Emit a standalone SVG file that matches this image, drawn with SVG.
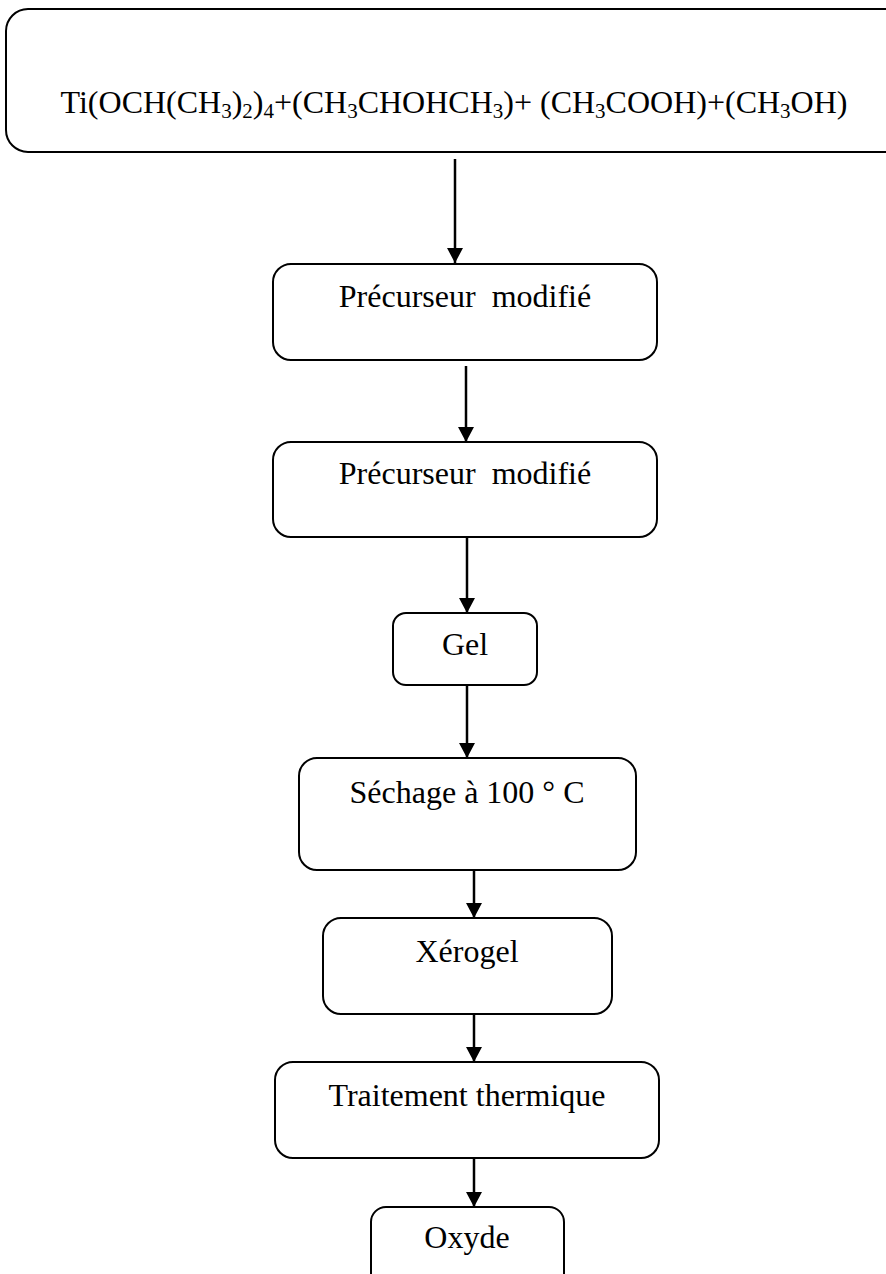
<svg xmlns="http://www.w3.org/2000/svg" width="886" height="1274" viewBox="0 0 886 1274">
<style>
.box{fill:#fff;stroke:#000;stroke-width:2}
.lbl{font-family:"Liberation Serif","Times New Roman",serif;font-size:32px;fill:#000;text-anchor:middle}
.sub{font-size:21px}
.conn{stroke:#000;stroke-width:2.5;fill:none}
</style>
<defs>
<marker id="ah" markerUnits="userSpaceOnUse" markerWidth="18" markerHeight="16" refX="15" refY="8" orient="auto">
<path d="M0,0 L15,8 L0,16 Z" fill="#000"/>
</marker>
</defs>
<rect width="886" height="1274" fill="#fff"/>
<g id="connectors">
<line class="conn" x1="455" y1="159" x2="455" y2="263" marker-end="url(#ah)"/>
<line class="conn" x1="466" y1="366" x2="466" y2="442" marker-end="url(#ah)"/>
<line class="conn" x1="467" y1="537" x2="467" y2="613" marker-end="url(#ah)"/>
<line class="conn" x1="467" y1="685" x2="467" y2="758" marker-end="url(#ah)"/>
<line class="conn" x1="474" y1="870" x2="474" y2="918" marker-end="url(#ah)"/>
<line class="conn" x1="474" y1="1014" x2="474" y2="1062" marker-end="url(#ah)"/>
<line class="conn" x1="474" y1="1158" x2="474" y2="1207" marker-end="url(#ah)"/>
</g>
<g id="n1">
<rect class="box" x="6" y="9" width="900" height="143" rx="22"/>
<text class="lbl" x="454" y="113">Ti(OCH(CH<tspan class="sub" dy="5">3</tspan><tspan dy="-5">)</tspan><tspan class="sub" dy="5">2</tspan><tspan dy="-5">)</tspan><tspan class="sub" dy="5">4</tspan><tspan dy="-5">+(CH</tspan><tspan class="sub" dy="5">3</tspan><tspan dy="-5">CHOHCH</tspan><tspan class="sub" dy="5">3</tspan><tspan dy="-5">)+ (CH</tspan><tspan class="sub" dy="5">3</tspan><tspan dy="-5">COOH)+(CH</tspan><tspan class="sub" dy="5">3</tspan><tspan dy="-5">OH)</tspan></text>
</g>
<g id="n2">
<rect class="box" x="273" y="264" width="384" height="96" rx="18"/>
<text class="lbl" x="465" y="307" xml:space="preserve">Précurseur  modifié</text>
</g>
<g id="n3">
<rect class="box" x="273" y="442" width="384" height="95" rx="18"/>
<text class="lbl" x="465" y="484" xml:space="preserve">Précurseur  modifié</text>
</g>
<g id="n4">
<rect class="box" x="393" y="613" width="144" height="72" rx="13"/>
<text class="lbl" x="465" y="655">Gel</text>
</g>
<g id="n5">
<rect class="box" x="299" y="758" width="337" height="112" rx="18"/>
<text class="lbl" x="467" y="803">Séchage à 100 ° C</text>
</g>
<g id="n6">
<rect class="box" x="323" y="918" width="289" height="96" rx="18"/>
<text class="lbl" x="467" y="962">Xérogel</text>
</g>
<g id="n7">
<rect class="box" x="275" y="1062" width="384" height="96" rx="18"/>
<text class="lbl" x="467" y="1106">Traitement thermique</text>
</g>
<g id="n8">
<rect class="box" x="371" y="1207" width="193" height="90" rx="15"/>
<text class="lbl" x="467" y="1248">Oxyde</text>
</g>
</svg>
